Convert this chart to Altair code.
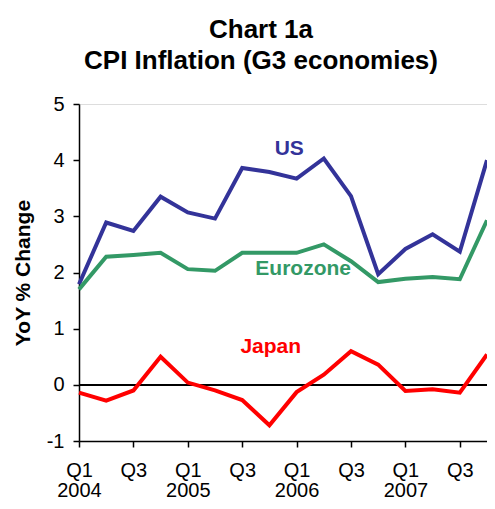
import json
import altair as alt
import pandas as pd

quarters = ["2004 Q1", "2004 Q2", "2004 Q3", "2004 Q4",
            "2005 Q1", "2005 Q2", "2005 Q3", "2005 Q4",
            "2006 Q1", "2006 Q2", "2006 Q3", "2006 Q4",
            "2007 Q1", "2007 Q2", "2007 Q3", "2007 Q4"]
us = [1.79, 2.89, 2.74, 3.35, 3.07, 2.96, 3.86, 3.79, 3.67, 4.03, 3.36, 1.97, 2.42, 2.68, 2.37, 4.00]
eurozone = [1.70, 2.28, 2.31, 2.35, 2.06, 2.03, 2.35, 2.35, 2.35, 2.50, 2.20, 1.83, 1.89, 1.92, 1.88, 2.93]
japan = [-0.14, -0.28, -0.10, 0.50, 0.04, -0.10, -0.27, -0.72, -0.13, 0.18, 0.60, 0.36, -0.11, -0.08, -0.14, 0.54]

x_tick_labels = [["Q1", "2004"], "", "Q3", "",
                 ["Q1", "2005"], "", "Q3", "",
                 ["Q1", "2006"], "", "Q3", "",
                 ["Q1", "2007"], "", "Q3", ""]
y_ticks = [-1, 0, 1, 2, 3, 4, 5]

series_names = ["US", "Eurozone", "Japan"]
series_colors = ["#333399", "#339966", "#FF0000"]

# annotation anchors (data coordinates: quarter index, value)
label_x = [7.73, 8.24, 7.05]
label_y = [4.19, 2.06, 0.68]

rows = []
for name, vals in zip(series_names, [us, eurozone, japan]):
    for i, (q, v) in enumerate(zip(quarters, vals)):
        rows.append({"idx": i, "quarter": q, "value": v, "series": name})
df = pd.DataFrame(rows)
labels_df = pd.DataFrame({"series": series_names, "x": label_x, "y": label_y})

FONT = "Liberation Sans"
color_scale = alt.Scale(domain=series_names, range=series_colors)
x_scale = alt.Scale(domain=[0, 15], nice=False, zero=False)
y_scale = alt.Scale(domain=[-1, 5], nice=False)

label_expr = json.dumps(x_tick_labels) + "[datum.value]"

x_axis = alt.Axis(values=list(range(16)), labelExpr=label_expr, title=None,
                  grid=False, labelFontSize=20, labelFont=FONT, labelColor="black",
                  labelLineHeight=20, labelPadding=13, labelOverlap=False, labelFlush=False,
                  tickSize=6, tickColor="black", tickWidth=1.5,
                  domainColor="black", domainWidth=1.5)
y_axis = alt.Axis(values=y_ticks, labelExpr="'' + datum.value", title="YoY % Change", grid=False,
                  labelFontSize=20, labelFont=FONT, labelColor="black", labelPadding=9,
                  tickSize=6, tickColor="black", tickWidth=1.5,
                  domainColor="black", domainWidth=1.5,
                  titleFont=FONT, titleFontSize=21, titleFontWeight="bold",
                  titleColor="black", titlePadding=13)

base = alt.Chart(df)

zero = alt.Chart(df).mark_rule(color="black", strokeWidth=1.5).encode(
    y=alt.datum(0, scale=y_scale)
)

lines = base.mark_line(strokeWidth=4, strokeJoin="miter").encode(
    x=alt.X("idx:Q", scale=x_scale, axis=x_axis),
    y=alt.Y("value:Q", scale=y_scale, axis=y_axis),
    color=alt.Color("series:N", scale=color_scale, legend=None),
    detail="series:N",
)

texts = alt.Chart(labels_df).mark_text(fontSize=21, font=FONT, fontWeight="bold",
                                       baseline="middle", align="center").encode(
    x=alt.X("x:Q", scale=x_scale),
    y=alt.Y("y:Q", scale=y_scale),
    text="series:N",
    color=alt.Color("series:N", scale=color_scale, legend=None),
)

chart = alt.layer(zero, lines, texts).properties(
    width=408, height=337,
    title=alt.TitleParams(["Chart 1a", "CPI Inflation (G3 economies)"],
                          fontSize=26, font=FONT, fontWeight="bold", color="black",
                          lineHeight=31, anchor="middle", dx=-22, offset=20),
    autosize=alt.AutoSizeParams(type="none"),
    padding={"left": 71, "top": 96, "right": 0, "bottom": 60},
).configure_view(stroke=None).configure(background="white")

chart.save("out.html", embed_options={"renderer": "svg", "actions": False})
